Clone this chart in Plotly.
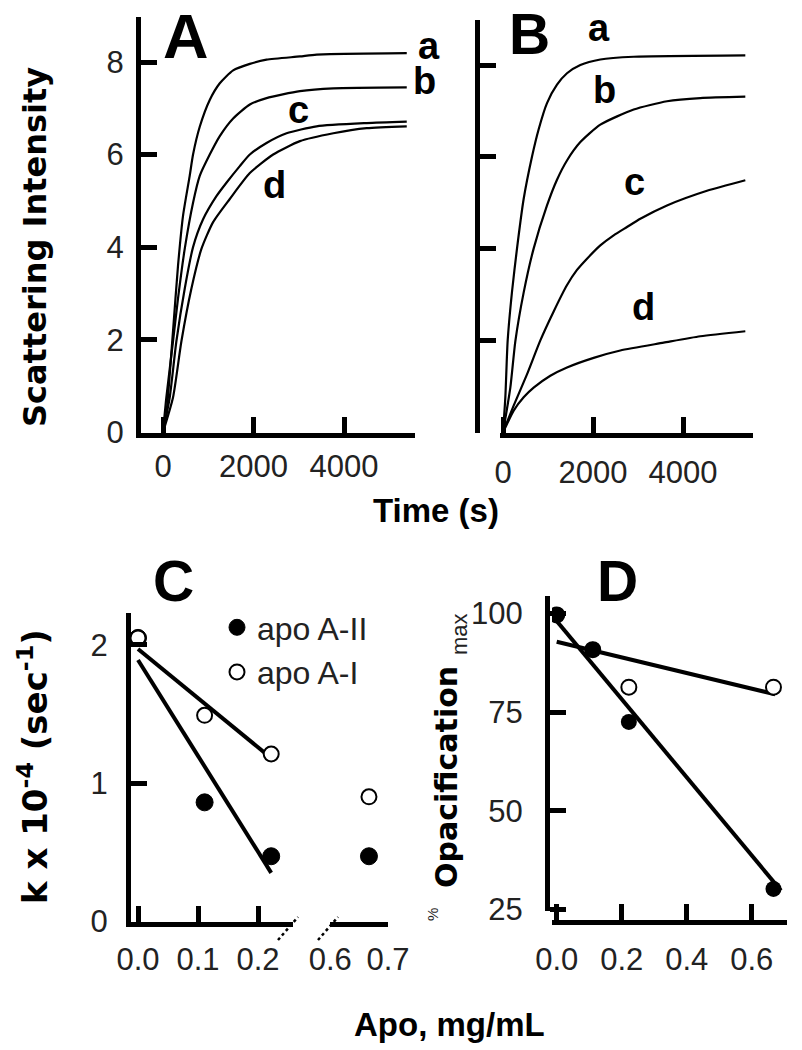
import plotly.graph_objects as go

W, H = 802, 1050

# ---------------- data ----------------
# Panel A: scattering intensity vs time (s), traces a-d
tA_a = [0, 74, 221, 332, 443, 590, 664, 812, 1033, 1255, 1550, 1919, 2288, 3026, 3395, 5387]
iA_a = [0, 0.39, 2.18, 3.6, 4.68, 5.54, 6.0, 6.6, 7.18, 7.54, 7.82, 7.96, 8.05, 8.12, 8.16, 8.19]
tA_b = [0, 74, 221, 332, 480, 664, 812, 1033, 1255, 1550, 1919, 2288, 3026, 3764, 5387]
iA_b = [0, 0.75, 1.96, 2.89, 3.96, 4.96, 5.54, 6.0, 6.4, 6.78, 7.08, 7.22, 7.37, 7.43, 7.45]
tA_c = [0, 148, 295, 480, 664, 886, 1181, 1402, 1697, 1919, 2288, 2731, 3395, 4502, 5387]
iA_c = [0, 0.75, 1.96, 3.1, 4.0, 4.6, 5.1, 5.39, 5.75, 6.0, 6.25, 6.46, 6.61, 6.68, 6.71]
tA_d = [0, 221, 406, 627, 849, 1107, 1476, 1919, 2435, 3026, 3764, 4502, 5387]
iA_d = [0, 0.75, 1.96, 3.1, 3.96, 4.54, 5.04, 5.6, 6.0, 6.29, 6.46, 6.57, 6.61]

# Panel B
tB_a = [0, 52, 104, 200, 311, 459, 644, 793, 978, 1200, 1422, 1719, 2163, 2904, 5385]
iB_a = [0, 0.76, 2.0, 3.06, 4.0, 5.08, 6.0, 6.6, 7.17, 7.57, 7.82, 8.0, 8.12, 8.18, 8.21]
tB_b = [0, 163, 274, 459, 681, 978, 1200, 1422, 1719, 2163, 2904, 3644, 4385, 5385]
iB_b = [0, 0.97, 1.98, 3.04, 4.0, 4.94, 5.5, 5.92, 6.32, 6.7, 7.03, 7.21, 7.28, 7.31]
tB_c = [0, 237, 533, 830, 1126, 1420, 1640, 1867, 2163, 2459, 2755, 3052, 3644, 4533, 5385]
iB_c = [0, 0.58, 1.26, 2.0, 2.63, 3.2, 3.53, 3.78, 4.07, 4.29, 4.47, 4.65, 4.94, 5.26, 5.49]
tB_d = [0, 89, 237, 459, 681, 1052, 1422, 2015, 2607, 3570, 4385, 5385]
iB_d = [0, 0.18, 0.47, 0.76, 0.97, 1.23, 1.41, 1.62, 1.78, 1.95, 2.09, 2.2]

curve_labels = ["a", "b", "c", "d"]
time_ticks = [0, 2000, 4000]
intensity_ticks = [0, 2, 4, 6, 8]

# Panel C: rate constant k x 10^-4 (sec^-1) vs apo concentration (broken axis)
apo_near = [0.0, 0.111, 0.222]
apo_far = [0.667]
k_AII_near = [2.05, 0.86, 0.47]
k_AII_far = [0.47]
k_AI_near = [2.05, 1.49, 1.21]
k_AI_far = [0.90]
fitC_x = [0.0, 0.222]
fitC_AII = [1.89, 0.35]
fitC_AI = [1.97, 1.18]

# Panel D: % opacification max vs apo concentration
apo_D = [0.0, 0.111, 0.222, 0.667]
opac_AII = [99.6, 90.8, 72.5, 30.2]
opac_AI = [99.6, 90.8, 81.3, 81.3]
fitD_AII_x = [-0.02, 0.69]
fitD_AII = [100.0, 29.8]
fitD_AI_x = [0.0, 0.672]
fitD_AI = [92.8, 79.5]

series_names = ["apo A-II", "apo A-I"]

# ---------------- helpers (pixel layout) ----------------
def X(px):
    return px / W


def Y(py):
    return 1 - py / H


def rng(d0, d1, p0, v0, p1, v1):
    s = (v1 - v0) / (p1 - p0)
    return [v0 + (d0 - p0) * s, v0 + (d1 - p0) * s]


TICKFONT = dict(family="Liberation Sans, Arial", size=31, color="#222")
LW = 5
HL = LW / 2


def ax(**kw):
    d = dict(showline=True, linecolor="black", linewidth=LW, ticks="inside",
             ticklen=16, tickwidth=LW, tickcolor="black", showgrid=False,
             zeroline=False, tickfont=TICKFONT, fixedrange=True, automargin=False)
    d.update(kw)
    return d


fig = go.Figure()
CURVE = dict(color="black", width=2.2, shape="spline", smoothing=0.6)

for t, v in [(tA_a, iA_a), (tA_b, iA_b), (tA_c, iA_c), (tA_d, iA_d)]:
    fig.add_trace(go.Scatter(x=t, y=v, mode="lines", line=CURVE,
                             xaxis="x", yaxis="y", showlegend=False))
for t, v in [(tB_a, iB_a), (tB_b, iB_b), (tB_c, iB_c), (tB_d, iB_d)]:
    fig.add_trace(go.Scatter(x=t, y=v, mode="lines", line=CURVE,
                             xaxis="x2", yaxis="y2", showlegend=False))

FIT = dict(color="black", width=4)
FILLED = dict(symbol="circle", size=17, color="black", line=dict(color="black", width=1))
OPEN = dict(symbol="circle", size=15, color="white", line=dict(color="black", width=2))

# Panel C
fig.add_trace(go.Scatter(x=fitC_x, y=fitC_AI, mode="lines", line=FIT,
                         xaxis="x3", yaxis="y3", showlegend=False))
fig.add_trace(go.Scatter(x=fitC_x, y=fitC_AII, mode="lines", line=FIT,
                         xaxis="x3", yaxis="y3", showlegend=False))
fig.add_trace(go.Scatter(x=apo_near, y=k_AII_near, mode="markers", marker=FILLED,
                         xaxis="x3", yaxis="y3", name=series_names[0], legendrank=1))
fig.add_trace(go.Scatter(x=apo_near, y=k_AI_near, mode="markers", marker=OPEN,
                         xaxis="x3", yaxis="y3", name=series_names[1], legendrank=2))
fig.add_trace(go.Scatter(x=apo_far, y=k_AII_far, mode="markers", marker=FILLED,
                         xaxis="x4", yaxis="y3", showlegend=False))
fig.add_trace(go.Scatter(x=apo_far, y=k_AI_far, mode="markers", marker=OPEN,
                         xaxis="x4", yaxis="y3", showlegend=False))

# Panel D
fig.add_trace(go.Scatter(x=fitD_AI_x, y=fitD_AI, mode="lines", line=FIT,
                         xaxis="x5", yaxis="y4", showlegend=False))
fig.add_trace(go.Scatter(x=fitD_AII_x, y=fitD_AII, mode="lines", line=FIT,
                         xaxis="x5", yaxis="y4", showlegend=False))
fig.add_trace(go.Scatter(x=apo_D, y=opac_AI, mode="markers", marker=OPEN,
                         xaxis="x5", yaxis="y4", showlegend=False))
fig.add_trace(go.Scatter(x=apo_D, y=opac_AII, mode="markers",
                         marker=dict(symbol="circle", size=16, color="black"),
                         xaxis="x5", yaxis="y4", showlegend=False))

# ---------------- axes ----------------
a_x0, a_y0 = 138.5 + HL, 435 - HL          # panel A inner corner
b_y0 = 435 - HL
c_x0, c_y0 = 128.5 + HL, 924 - HL
fig.update_layout(
    xaxis=ax(domain=[X(a_x0), X(415)], range=rng(a_x0, 415, 163, 0, 344, 4000),
             anchor="y", tickvals=time_ticks, ticklabelstandoff=2),
    yaxis=ax(domain=[Y(a_y0), Y(17)], range=rng(a_y0, 17, a_y0 - 0.3, 0, 62, 8),
             anchor="x", tickvals=intensity_ticks, ticklabelstandoff=6),
    xaxis2=ax(domain=[X(500), X(753)], range=rng(500, 753, 503, 0, 683, 4000),
              anchor="y2", tickvals=time_ticks, ticklabelstandoff=8),
    yaxis2=ax(domain=[Y(b_y0), Y(20)], range=rng(b_y0, 20, b_y0 - 0.3, 0, 65, 8),
              anchor="free", position=X(477), tickvals=intensity_ticks,
              showticklabels=False),
    xaxis3=ax(domain=[X(c_x0), X(293)], range=rng(c_x0, 293, 138, 0, 258, 0.2),
              anchor="y3", tickvals=[0, 0.1, 0.2], ticktext=["0.0", "0.1", "0.2"],
              ticklabelstandoff=6),
    xaxis4=ax(domain=[X(330), X(388)], range=rng(330, 388, 330.3, 0.6, 388, 0.7),
              anchor="y3", tickvals=[0.6, 0.7], ticktext=["0.6", "0.7"], ticklen=0,
              ticklabelstandoff=6),
    xaxis6=ax(domain=[X(330), X(388)], range=rng(330, 388, 330.3, 0.6, 388, 0.7),
              anchor="y3", overlaying="x4", tickvals=[0.7], showticklabels=False,
              showline=False),
    yaxis3=ax(domain=[Y(c_y0), Y(613)], range=rng(c_y0, 613, c_y0 - 0.3, 0, 783, 1),
              anchor="x3", tickvals=[0, 1, 2], ticklabelstandoff=12),
    xaxis5=ax(domain=[X(552), X(787)], range=rng(552, 787, 556.7, 0, 751.7, 0.6),
              anchor="free", position=Y(921.5), tickvals=[0, 0.2, 0.4, 0.6],
              ticktext=["0.0", "0.2", "0.4", "0.6"], ticklabelstandoff=8),
    yaxis4=ax(domain=[Y(911), Y(596)], range=rng(911, 596, 909.5, 25, 613.3, 100),
              anchor="free", position=X(547), tickvals=[25, 50, 75, 100],
              ticklabelstandoff=16),
)

# ---------------- text ----------------
ann = []


def text(t, px, py, font, angle=0):
    ann.append(dict(text=t, x=X(px), y=Y(py), xref="paper", yref="paper",
                    showarrow=False, font=font, textangle=angle,
                    xanchor="center", yanchor="middle"))


BIG = dict(family="Liberation Sans, Arial", size=57, color="black")
text("<b>A</b>", 186, 36, dict(BIG, size=63))
text("<b>B</b>", 529, 34, BIG)
text("<b>C</b>", 173, 581, BIG)
text("<b>D</b>", 617, 581, BIG)

LAB = dict(family="Liberation Sans, Arial", size=38, color="black")
label_pos_A = [(429, 46), (424, 81), (298, 110), (274, 185)]
label_pos_B = [(599, 28), (604, 90), (634, 182), (643, 307)]
for lab, (px, py) in zip(curve_labels, label_pos_A):
    text("<b>%s</b>" % lab, px, py, LAB)
for lab, (px, py) in zip(curve_labels, label_pos_B):
    text("<b>%s</b>" % lab, px, py, LAB)

text("<b>Scattering Intensity</b>", 35, 247,
     dict(family="DejaVu Sans", size=32, color="black"), -90)
text("<b>k x 10<sup>-4</sup> (sec<sup>-1</sup>)</b>", 33, 767,
     dict(family="DejaVu Sans", size=34, color="black"), -90)
text("%", 432, 915, dict(family="Liberation Sans, Arial", size=15, color="#222"), -90)
text("<b>Opacification</b>", 446, 777, dict(family="DejaVu Sans", size=30, color="black"), -90)
text("max", 459, 634, dict(family="Liberation Sans, Arial", size=22, color="#222"), -90)

XT = dict(family="Liberation Sans, Arial", size=33, color="black")
text("<b>Time (s)</b>", 436, 510, XT)
text("<b>Apo, mg/mL</b>", 449, 1024, XT)

# axis-break marks on panel C
shapes = []
for x0, x1 in [(278, 298), (318, 338)]:
    shapes.append(dict(type="line", xref="paper", yref="paper", x0=X(x0), y0=Y(940),
                       x1=X(x1), y1=Y(917), line=dict(color="black", width=2.5, dash="dot")))

fig.update_layout(
    width=W, height=H, margin=dict(l=0, r=0, t=0, b=0, autoexpand=False),
    paper_bgcolor="white", plot_bgcolor="rgba(0,0,0,0)",
    annotations=ann, shapes=shapes,
    legend=dict(x=X(217), y=Y(600), xanchor="left", yanchor="top",
                font=dict(family="Liberation Sans, Arial", size=32, color="#222"),
                bgcolor="rgba(0,0,0,0)", tracegroupgap=0, itemwidth=30),
    showlegend=True,
)

fig.write_html("out.html", config={"displayModeBar": False},
               post_script="document.body.style.margin='0px';")
